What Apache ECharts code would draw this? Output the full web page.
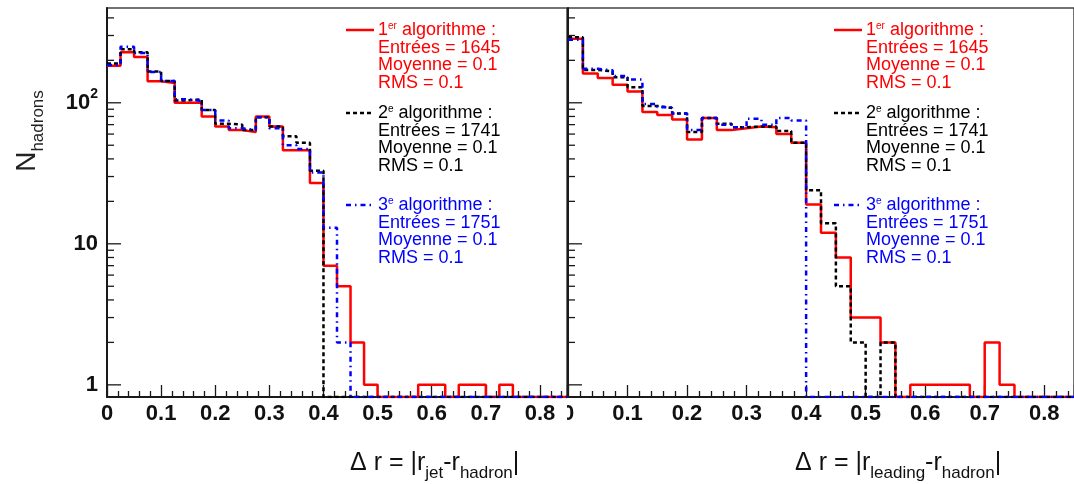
<!DOCTYPE html>
<html><head><meta charset="utf-8">
<script src="https://cdn.jsdelivr.net/npm/echarts@6/dist/echarts.min.js"></script>
<style>html,body{margin:0;padding:0;background:#fff}#c{width:1074px;height:484px}</style>
</head><body><div id="c"></div>
<script>
// ---- data ----
const binStarts = [0,0.025,0.05,0.075,0.1,0.125,0.15,0.175,0.2,0.225,0.25,0.275,0.3,0.325,0.35,0.375,0.4,0.425,0.45,0.475,0.5,0.525,0.55,0.575,0.6,0.625,0.65,0.675,0.7,0.725,0.75,0.775,0.8,0.825];
const binWidth = 0.025;
// left panel: |r_jet - r_hadron|
const jetAlgo1 = [183,228,211,142,138,100,100,80,68,64,62,80,68,46,46,27,7,5,2,1,0,0,0,1,1,0,1,1,0,1,0,0,0,0];
const jetAlgo2 = [190,240,228,167,143,104,106,89,71,70,64,79,68,58,52,33,0,0,0,0,0,0,0,0,0,0,0,0,0,0,0,0,0,0];
const jetAlgo3 = [185,250,225,165,143,106,103,89,75,66,64,79,66,50,47,32,13,2,0,0,0,0,0,0,0,0,0,0,0,0,0,0,0,0];
// right panel: |r_leading - r_hadron|
const leadAlgo1 = [284,161,150,134,120,86,82,76,55,78,64,66,68,67,60,52,19,12,8,3,3,2,0,1,1,1,1,0,2,1,0,0,0,0];
const leadAlgo2 = [292,171,167,152,129,95,92,84,62,78,71,67,68,68,63,52,24,14,5,2,0,2,0,0,0,0,0,0,0,0,0,0,0,0];
const leadAlgo3 = [280,174,170,155,146,98,93,84,64,78,70,67,77,70,78,75,0,0,0,0,0,0,0,0,0,0,0,0,0,0,0,0,0,0];

const xTickLabels = ['0','0.1','0.2','0.3','0.4','0.5','0.6','0.7','0.8'];
const yMajorTicks = [1,10,100];
const yMinorTicks = [2,3,4,5,6,7,8,9,20,30,40,50,60,70,80,90,200,300,400];
const yTickLabels = ['1','10','10²'];

const algoNumbers = ['1','2','3'];
const algoSup = ['er','e','e'];
const entries = [1645,1741,1751];
const means = [0.1,0.1,0.1];
const rmsValues = [0.1,0.1,0.1];

const xTitles = [['jet'],['leading']];

// ---- style ----
const X_MIN = 0, X_MAX = 0.85, Y_MIN = 0.82, Y_MAX = 470;
const FONT = "'Liberation Sans', Arial, Helvetica, sans-serif";
const colors = ['#ff0000','#000000','#0000ff'];
const dashes = [null,[4,3],[5,4,1.5,4]];
const AXC = '#1a1a1a';

function histData(vals){
  const d = vals.map((v,i)=>[binStarts[i], v>0 ? v : Y_MIN]);
  const last = vals.length-1;
  d.push([binStarts[last]+binWidth, vals[last]>0 ? vals[last] : Y_MIN]);
  return d;
}

const chart = echarts.init(document.getElementById('c'), null, {renderer:'canvas'});

const grids = [
  {left:107, top:8, width:460, height:389, show:true, borderColor:'#444', borderWidth:1.5, backgroundColor:'transparent'},
  {left:568, top:8, width:510, height:389, show:true, borderColor:'#444', borderWidth:1.5, backgroundColor:'transparent'}
];

function xAxisDef(i){
  return {
    type:'value', gridIndex:i, min:X_MIN, max:X_MAX, interval:0.1,
    axisLine:{show:true, onZero:false, lineStyle:{color:AXC, width:2}},
    axisTick:{show:true, inside:true, length:12, lineStyle:{color:AXC, width:1.3}},
    minorTick:{show:true, splitNumber:5, length:6, lineStyle:{color:AXC, width:1.3}},
    splitLine:{show:false}, minorSplitLine:{show:false},
    axisLabel:{
      show:true, margin:6, color:'#111', fontFamily:FONT, fontWeight:'bold', fontSize:22,
      showMaxLabel:false,
      formatter:(v)=>{ const k=Math.round(v*10); return Math.abs(v*10-k)<1e-6 && k<xTickLabels.length ? xTickLabels[k] : ''; }
    }
  };
}
function yAxisDef(i){
  return {
    type:'log', logBase:10, gridIndex:i, min:Y_MIN, max:Y_MAX,
    axisLine:{show:true, onZero:false, lineStyle:{color:AXC, width:2}},
    axisTick:{show:false}, minorTick:{show:false},
    splitLine:{show:false}, minorSplitLine:{show:false},
    axisLabel:{
      show: i===0, margin:9, color:'#111',
      formatter:(v)=>{ const l=Math.log10(v), k=Math.round(l); if (Math.abs(l-k)>1e-6 || k<0 || k>2) return ''; return k===2 ? '{b|10}{s|2}' : '{b|'+yTickLabels[k]+'}'; },
      rich:{
        b:{fontFamily:FONT, fontWeight:'bold', fontSize:22, color:'#111', lineHeight:32},
        s:{fontFamily:FONT, fontWeight:'bold', fontSize:14, color:'#111', verticalAlign:'top', lineHeight:14}
      }
    }
  };
}

function tickSeries(i){
  const data = yMajorTicks.map(v=>[X_MIN,v,14]).concat(yMinorTicks.map(v=>[X_MIN,v,7]));
  return {
    type:'custom', xAxisIndex:i, yAxisIndex:i, silent:true, clip:false, z:5,
    data, encode:{x:0,y:1},
    renderItem:(params, api)=>{
      const p = api.coord([api.value(0), api.value(1)]);
      const len = api.value(2);
      return {type:'line', shape:{x1:p[0], y1:p[1], x2:p[0]+len, y2:p[1]}, style:{stroke:AXC, lineWidth:1.3}};
    }
  };
}

function histSeries(i, vals, k){
  return {
    type:'line', xAxisIndex:i, yAxisIndex:i, step:'end', showSymbol:false, symbol:'none',
    clip:true, z:2+k, silent:true,
    data: histData(vals),
    lineStyle:{color:colors[k], width:2.5, type: dashes[k] || 'solid'}
  };
}

const series = [
  histSeries(0, jetAlgo1, 0), histSeries(0, jetAlgo2, 1), histSeries(0, jetAlgo3, 2),
  histSeries(1, leadAlgo1, 0), histSeries(1, leadAlgo2, 1), histSeries(1, leadAlgo3, 2),
  tickSeries(0), tickSeries(1)
];

// legend blocks
const graphics = [];
const legendX = [346, 834];
const legendY = [30, 113, 205];
const LH = 17.6;
for (let p=0;p<2;p++){
  for (let k=0;k<3;k++){
    const yc = legendY[k];
    graphics.push({type:'line', z:50, shape:{x1:legendX[p], y1:yc, x2:legendX[p]+28, y2:yc},
      style:{stroke:colors[k], lineWidth:2.5, lineDash: dashes[k] || null}});
    const txt = '{n|'+algoNumbers[k]+'}{s|'+algoSup[k]+'}{n| algorithme :}\n'
      + '{n|Entrées = '+entries[k]+'}\n'
      + '{n|Moyenne = '+means[k]+'}\n'
      + '{n|RMS = '+rmsValues[k]+'}';
    graphics.push({type:'text', z:50, x:legendX[p]+32, y:yc - LH/2,
      style:{text:txt, fill:colors[k], verticalAlign:'top', align:'left',
        rich:{
          n:{fontFamily:FONT, fontSize:18, lineHeight:LH, fill:colors[k]},
          s:{fontFamily:FONT, fontSize:10, lineHeight:10, verticalAlign:'top', fill:colors[k]}
        }}});
  }
}
// axis titles
const titleLeft = [[350,463],[795,463]];
for (let p=0;p<2;p++){
  graphics.push({type:'text', z:50, x:titleLeft[p][0], y:titleLeft[p][1],
    style:{text:'{m|Δ r = |r}{u|'+xTitles[p][0]+'}{m|-r}{u|hadron}{m||}', align:'left', verticalAlign:'middle',
      rich:{
        m:{fontFamily:FONT, fontSize:25, lineHeight:38, fill:'#111'},
        u:{fontFamily:FONT, fontSize:17, lineHeight:17, verticalAlign:'bottom', fill:'#111'}
      }}});
}
graphics.push({type:'text', z:50, x:27, y:131, rotation:Math.PI/2,
  style:{text:'{m|N}{u|hadrons}', align:'center', verticalAlign:'middle',
    rich:{
      m:{fontFamily:FONT, fontSize:28, lineHeight:40, fill:'#222'},
      u:{fontFamily:FONT, fontSize:17, lineHeight:17, verticalAlign:'bottom', fill:'#222'}
    }}});
// partial mask of the right pad's "0" label (as in the reference)
graphics.push({type:'rect', z:60, shape:{x:556, y:400, width:11, height:26}, style:{fill:'#fff'}});

chart.setOption({
  animation:false,
  backgroundColor:'#fff',
  grid: grids,
  xAxis:[xAxisDef(0), xAxisDef(1)],
  yAxis:[yAxisDef(0), yAxisDef(1)],
  series,
  graphic: graphics
});
</script>
</body></html>
